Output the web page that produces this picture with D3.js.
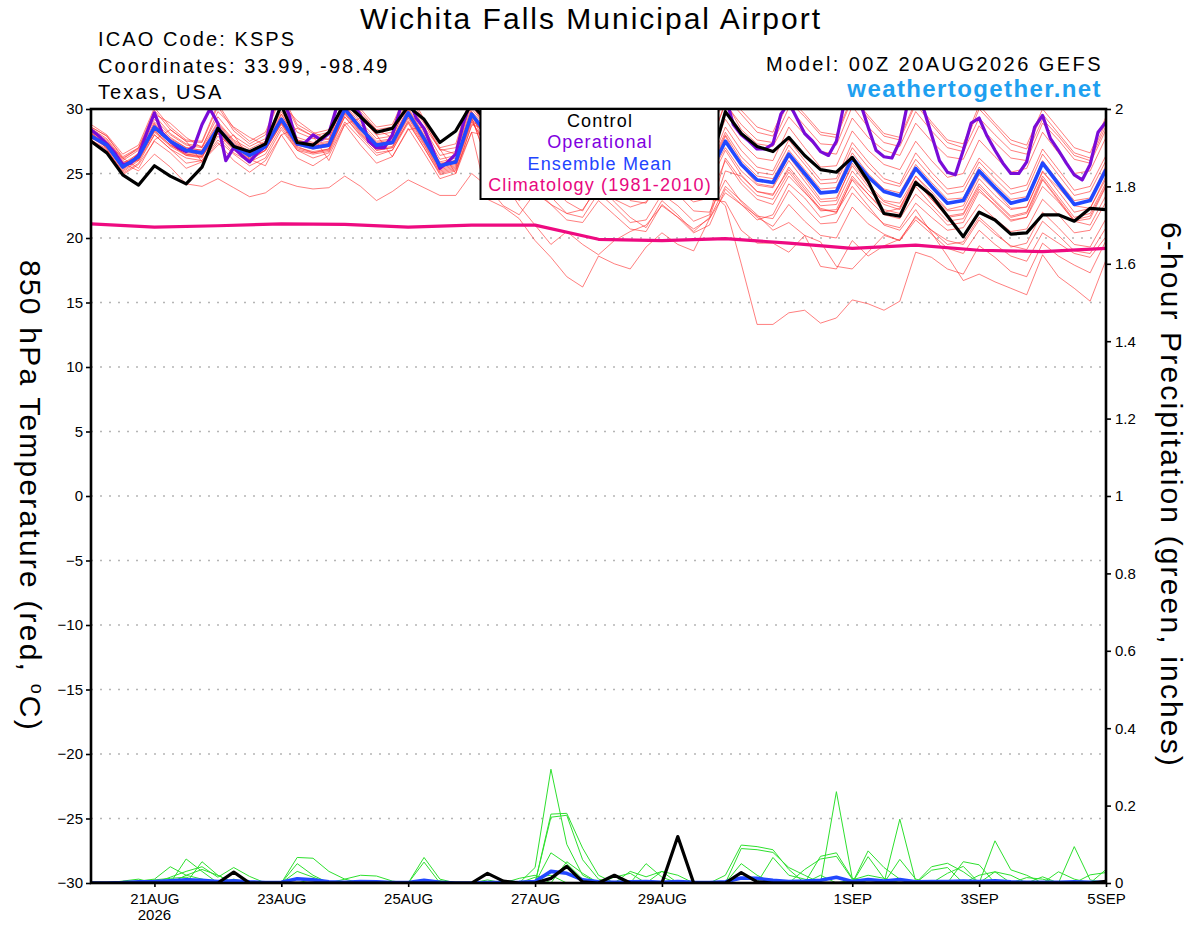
<!DOCTYPE html>
<html>
<head>
<meta charset="utf-8">
<script src="https://cdn.jsdelivr.net/npm/d3@7"></script>
<style>
  html, body { margin: 0; padding: 0; background: #fff; }
  svg { display: block; font-family: "Liberation Sans", Arial, Helvetica, sans-serif; }
</style>
</head>
<body>
<svg id="chart" width="1200" height="927"></svg>
<script>
// ---------------- DATA ----------------
const runStart = "2026-08-20T00:00:00Z";
const runEnd = "2026-09-05T00:00:00Z";
const tickDates = ["2026-08-21","2026-08-23","2026-08-25","2026-08-27","2026-08-29","2026-09-01","2026-09-03","2026-09-05"];
const tickLabels = ["21AUG","23AUG","25AUG","27AUG","29AUG","1SEP","3SEP","5SEP"];
const yearLabel = "2026";
const tempTicks = [-30,-25,-20,-15,-10,-5,0,5,10,15,20,25,30];
const tempGrid = [-25,-20,-15,-10,-5,0,5,10,15,20,25];
const precipTicks = [0,0.2,0.4,0.6,0.8,1,1.2,1.4,1.6,1.8,2];

// 6-hourly control (black)
const controlTemp = [27.5,26.6,24.9,24.1,25.6,24.8,24.2,25.5,28.5,27.1,
  26.7,27.3,30.3,27.4,27.2,28.2,30.5,29.4,28.2,28.5,
  30.2,29.2,27.4,28.3,30.4,29.0,27.5,27.0,29.5,28.0,
  26.5,26.2,28.8,27.5,26.0,25.8,28.5,27.0,25.8,25.5,
  29.8,28.1,27.1,26.7,27.8,26.4,25.3,25.1,26.25,24.4,
  21.9,21.7,24.3,23.3,21.7,20.1,22.0,21.4,20.3,20.4,
  21.8,21.8,21.3,22.3,22.2];

// 6-hourly ensemble mean (blue)
const meanTemp = [27.9,27.2,25.5,26.3,28.6,27.5,26.8,26.6,28.5,27.1,
  26.4,27.1,29.2,27.3,27.0,27.2,30.0,28.5,27.2,27.4,
  29.7,27.7,25.6,25.9,29.6,28.0,26.8,26.5,28.8,27.3,
  26.0,25.8,28.0,26.8,25.5,25.6,27.8,26.5,25.2,25.0,
  27.5,25.7,24.5,24.3,26.5,25.0,23.5,23.6,26.2,24.75,
  23.6,23.25,25.4,24.0,22.7,22.9,25.2,23.9,22.7,23.0,
  25.8,24.2,22.6,22.9,25.3];

// 3-hourly operational (purple)
const operationalTemp = [28.4,27.9,27.3,26.6,25.7,25.8,26.4,28.1,29.7,28.1,
  27.5,27.0,26.7,27.1,28.8,30.0,28.9,26.0,27.0,26.4,
  25.9,26.6,27.1,30.2,31.0,29.5,27.3,27.4,28.0,27.6,
  28.1,30.2,31.0,30.5,29.5,27.5,27.0,27.0,28.0,30.0,
  31.0,29.3,28.5,27.0,25.4,25.9,26.5,29.0,30.8,31.0,
  30.0,28.6,27.5,27.2,27.8,30.5,31.2,30.8,29.2,28.0,
  27.4,27.6,28.5,30.8,31.5,31.0,29.6,28.3,27.6,27.3,
  28.0,30.4,31.3,30.9,29.4,28.2,27.5,27.2,28.2,30.6,
  31.0,28.8,28.0,27.5,26.9,26.9,27.3,29.6,30.5,29.3,
  28.1,27.5,26.7,26.4,27.5,30.5,31.0,30.5,28.6,26.8,
  26.3,26.2,27.5,30.5,31.0,30.0,28.0,26.0,25.1,24.9,
  26.8,28.9,29.3,27.9,26.8,25.8,25.0,25.0,25.9,28.6,
  29.5,27.7,26.8,25.8,24.9,24.5,25.7,28.2,29.0];

// daily climatology (pink)
const climatology = [21.1,20.85,20.95,21.1,21.05,20.85,21.0,21.0,19.9,19.8,19.95,19.6,19.2,19.45,19.05,18.95,19.2];

// 6-hourly ensemble members (red)
const member01 = [28.0,27.0,25.8,25.2,26.5,25.5,24.2,24.0,24.6,23.9,23.2,23.5,24.4,24.0,23.8,23.9,24.8,24.0,22.9,23.6,24.5,23.9,23.3,23.3,25.0,
  24.0,22.5,21.8,23.5,22.6,21.9,22.2,24.0,23.0,22.4,22.8,24.5,23.6,22.8,23.1,
  26.0,24.2,23.0,22.6,24.8,23.5,22.3,22.0,24.5,23.0,21.8,21.5,23.4,22.3,21.0,21.2,23.6,22.6,21.4,21.6,24.0,22.8,21.3,21.0,23.3];
const member02 = [28.3,27.4,25.9,26.0,28.0,26.9,25.8,26.0,27.6,26.5,25.6,26.2,28.4,26.8,26.2,26.6,29.0,27.7,26.4,26.8,28.9,27.0,24.9,25.2,28.7,
  29.5,27.9,27.4,29.6,28.5,27.2,26.9,29.3,28.0,26.7,26.8,29.2,27.8,26.7,26.9,
  30.6,28.4,27.3,27.1,29.4,28.0,26.7,26.5,29.3,27.8,26.8,26.4,28.9,27.5,26.3,26.1,28.7,27.4,26.2,26.0,28.9,27.6,26.1,25.8,28.4];
const member03 = [28.6,27.9,26.3,27.0,29.9,28.4,27.5,27.4,30.2,28.3,27.3,28.0,31.0,28.6,27.9,28.2,31.6,29.8,28.4,28.6,31.2,29.0,26.8,27.0,31.0,
  30.2,28.6,28.3,30.8,29.4,28.0,27.8,30.3,28.9,27.7,27.6,30.1,28.8,27.6,27.9,
  31.0,29.6,28.2,27.9,30.6,29.4,28.0,27.8,30.8,29.3,27.9,27.6,30.4,28.8,27.4,27.0,30.0,28.7,27.3,26.9,29.6,28.1,26.6,26.2,29.0];
const member04 = [27.6,26.8,25.2,26.1,28.9,27.3,26.4,26.2,28.8,27.4,26.6,27.0,29.6,27.6,27.3,27.5,30.3,28.6,27.4,27.6,30.0,27.9,25.8,26.0,29.4,
  27.6,26.4,25.9,27.9,26.4,25.3,24.8,26.7,25.4,24.6,24.4,26.2,25.0,23.8,23.6,
  22.5,18.0,13.3,13.3,14.2,14.4,13.4,13.8,15.2,14.9,14.4,15.1,18.9,18.5,17.6,17.2,19.4,18.5,17.4,17.0,19.6,18.6,17.9,17.3,19.8];
const member05 = [28.1,27.3,25.7,26.4,28.3,27.2,26.5,26.4,28.1,26.9,26.2,26.8,28.9,27.1,26.6,26.9,29.4,28.0,26.8,27.0,29.0,27.0,25.0,25.3,28.2,
  23.0,22.4,21.5,19.8,18.5,17.0,16.2,18.6,18.0,17.6,19.3,20.4,19.5,19.0,21.5,
  23.5,22.6,21.4,21.8,24.2,23.1,21.6,21.9,24.6,23.4,22.0,22.3,24.8,23.6,22.2,22.5,24.9,23.7,22.3,22.4,25.1,23.9,22.5,22.3,24.6];
const member06 = [27.8,27.1,25.4,26.5,28.7,27.6,26.9,26.7,28.6,27.2,26.5,27.2,29.4,27.4,27.1,27.3,30.2,28.6,27.3,27.5,29.9,27.8,25.7,26.0,29.8,
  26.5,24.4,22.5,21.0,19.5,20.5,19.5,18.7,19.8,20.5,21.0,22.5,21.6,20.7,21.5,
  24.0,22.9,21.8,20.6,21.2,20.2,19.7,17.8,17.6,18.9,20.2,19.8,21.4,20.3,19.2,18.8,20.6,19.5,18.6,18.2,20.4,19.6,18.8,18.5,20.1];
const member07 = [28.0,27.2,25.6,26.2,28.4,27.4,26.6,26.5,28.3,27.0,26.3,27.0,29.0,27.2,26.9,27.1,29.7,28.3,27.0,27.3,29.5,27.5,25.4,25.7,29.2,
  27.8,26.6,26.2,28.3,27.0,25.8,25.4,27.6,26.3,25.0,25.1,27.2,25.9,24.6,24.3,
  26.8,24.9,23.6,23.4,25.3,23.8,22.2,22.0,24.0,22.5,21.0,20.6,22.2,20.4,18.6,16.7,17.2,16.6,16.1,15.6,18.7,17.0,16.1,15.1,18.3];
const member08 = [28.4,27.6,26.0,26.8,29.2,28.0,27.2,27.0,29.0,27.6,26.9,27.5,29.8,27.8,27.4,27.7,30.6,29.0,27.7,27.9,30.4,28.2,26.1,26.4,30.2,
  28.7,27.3,27.0,29.3,27.8,26.5,26.3,28.5,27.3,26.0,26.1,28.3,27.0,25.7,25.5,
  28.2,26.3,25.1,24.9,27.2,25.7,24.2,24.3,27.0,25.5,24.3,24.0,26.1,24.7,23.4,23.6,25.9,24.6,23.4,23.7,26.5,24.9,23.3,23.6,26.0];
const member09 = [27.5,26.7,25.0,25.8,28.0,26.9,26.2,26.0,27.9,26.6,25.9,26.5,28.6,26.8,26.5,26.7,29.4,27.9,26.6,26.8,29.1,27.2,25.1,25.4,29.0,
  27.2,25.4,24.2,25.8,24.0,22.8,22.1,24.2,22.8,21.6,20.8,22.9,21.8,20.5,21.6,
  25.2,24.8,23.6,23.3,25.5,24.0,22.5,22.6,25.2,23.7,22.6,22.2,24.4,23.0,21.7,21.9,24.2,22.9,21.7,22.0,24.8,23.2,21.6,21.9,24.3];
const member10 = [28.2,27.4,25.6,26.6,29.0,27.8,27.0,26.8,28.9,27.5,26.7,27.4,29.6,27.6,27.2,27.4,30.4,28.8,27.5,27.7,30.1,28.0,25.9,26.2,30.0,
  28.6,27.4,27.1,29.6,28.1,26.9,26.6,29.0,27.8,26.5,26.6,28.9,27.6,26.3,26.2,
  29.2,27.4,26.2,26.0,28.6,27.0,25.5,25.6,28.3,26.8,25.7,25.3,27.5,26.0,24.7,25.0,27.6,26.3,25.1,25.4,28.2,26.6,25.0,25.2,27.8];
const member11 = [27.7,27.4,26.2,26.9,29.6,28.9,27.8,27.0,29.8,28.6,27.8,27.2,30.4,29.1,28.2,27.6,31.0,29.6,28.4,27.8,30.6,28.9,26.9,26.5,30.5,
  28.2,26.9,26.5,28.9,27.4,26.2,26.0,28.1,26.9,25.7,25.7,27.9,26.6,25.3,25.1,
  27.9,25.6,24.2,24.0,26.3,24.7,23.0,23.1,25.6,24.0,22.8,22.4,24.5,23.0,21.6,21.8,24.0,22.8,21.6,21.9,24.6,23.0,21.4,21.7,24.1];
const member12 = [28.8,28.0,26.5,27.2,30.1,28.6,27.6,27.5,30.4,28.5,27.5,28.2,31.2,28.8,28.1,28.4,31.8,30.0,28.6,28.8,31.5,29.2,27.0,27.3,31.3,
  30.6,29.0,28.6,31.0,29.7,28.3,28.1,30.6,29.1,27.9,27.9,30.3,29.0,27.9,28.1,
  31.4,29.9,28.6,28.2,30.9,29.6,28.2,28.0,31.0,29.5,28.1,27.8,30.6,29.0,27.6,27.3,30.3,28.9,27.6,27.2,30.0,28.5,27.0,26.6,29.4];
const member13 = [28.6,27.9,26.2,25.4,27.6,28.4,27.5,25.9,27.2,28.0,26.1,25.6,28.0,28.5,27.9,26.0,28.8,29.3,28.0,26.3,28.4,28.6,26.9,25.0,28.2,
  27.9,26.7,26.3,28.6,27.1,25.9,25.7,27.8,26.6,25.3,25.4,27.5,26.3,25.0,24.8,
  27.0,25.2,24.1,23.9,26.0,24.4,22.8,22.9,25.8,24.2,22.9,22.7,24.8,23.4,22.1,22.2,24.6,23.3,22.2,22.4,25.2,23.6,22.0,22.3,24.8];
const member14 = [27.9,27.1,25.4,26.1,28.2,27.1,26.4,26.3,28.1,26.8,26.0,26.8,28.8,26.9,26.6,26.8,29.6,28.1,26.8,27.0,29.3,27.3,25.2,25.5,29.1,
  26.9,25.5,24.8,26.3,24.9,23.6,23.2,25.4,24.2,22.9,22.7,24.6,23.4,22.1,22.0,
  24.5,22.8,21.6,20.9,22.6,21.3,20.2,20.0,22.4,21.1,20.3,19.8,21.7,20.6,19.5,19.7,21.6,20.5,19.3,19.6,22.0,20.8,19.5,19.3,21.5];
const member15 = [28.5,27.7,26.1,27.0,29.5,28.1,27.3,27.1,29.4,27.9,27.1,27.7,30.3,28.2,27.7,28.0,30.9,29.3,28.0,28.2,30.8,28.5,26.4,26.7,30.6,
  29.6,28.1,27.8,30.3,28.9,27.6,27.4,29.9,28.5,27.2,27.2,29.6,28.3,27.1,27.3,
  30.4,28.8,27.6,27.4,30.1,28.7,27.3,27.2,30.2,28.6,27.4,27.1,29.8,28.3,27.0,26.7,29.3,28.0,26.8,26.5,29.2,27.9,26.4,26.0,28.7];
const member16 = [28.2,26.9,24.9,25.7,27.5,26.6,25.4,25.9,27.4,26.0,25.1,26.0,28.0,26.2,25.6,26.4,28.8,27.2,25.8,26.3,28.5,26.6,24.6,25.0,28.8,
  28.4,27.1,26.8,29.1,27.7,26.4,26.2,28.4,27.2,25.9,26.0,28.2,26.9,25.6,25.4,
  28.0,26.0,24.8,24.6,26.8,25.3,23.8,23.9,26.6,25.0,23.8,23.5,25.7,24.3,23.0,23.1,25.5,24.2,23.0,23.2,26.0,24.4,22.9,23.1,25.6];
const member17 = [27.8,27.0,25.3,26.2,28.6,27.4,26.7,26.5,28.5,27.1,26.4,27.1,29.3,27.3,27.0,27.2,30.0,28.4,27.1,27.3,29.7,27.7,25.6,25.9,29.6,
  27.5,26.2,25.8,27.8,26.3,25.0,24.6,26.6,25.4,24.1,24.0,25.8,24.5,23.2,23.0,
  22.8,20.6,19.6,19.6,18.9,20.2,17.8,17.6,19.8,18.6,19.4,19.9,21.6,20.6,19.8,19.5,21.4,20.3,19.4,19.1,21.3,20.2,19.0,18.8,20.8];
const member18 = [28.1,27.3,25.6,26.4,28.6,27.5,26.8,26.6,28.6,27.2,26.4,27.1,29.2,27.3,27.0,27.2,29.9,28.5,27.2,27.4,29.7,27.6,25.5,25.8,29.4,
  25.8,24.0,22.9,23.8,22.6,21.4,21.2,22.9,21.8,20.7,20.5,22.6,21.6,20.4,21.0,
  23.8,22.6,21.7,21.5,23.7,22.4,21.1,21.2,23.5,22.2,21.1,20.8,22.7,21.6,20.6,20.8,22.6,21.5,20.5,20.7,23.0,21.8,20.4,20.6,22.8];
const member19 = [28.3,27.5,25.8,26.5,28.8,27.7,27.0,26.8,28.7,27.3,26.6,27.2,29.3,27.4,27.1,27.3,30.2,28.6,27.3,27.5,29.8,27.8,25.7,26.0,29.8,
  28.5,27.2,26.9,29.2,27.8,26.5,26.3,28.6,27.4,26.1,26.2,28.4,27.1,25.8,25.6,
  28.6,26.8,25.5,25.2,27.6,26.0,24.5,24.6,27.4,25.9,24.6,24.2,26.6,25.1,23.8,24.0,26.2,25.0,23.8,24.1,26.9,25.3,23.7,24.0,26.4];
const member20 = [27.6,26.9,25.1,26.0,28.3,27.2,26.5,26.3,28.2,26.9,26.1,26.8,28.9,27.0,26.7,26.9,29.7,28.2,26.9,27.1,29.4,27.4,25.3,25.6,29.3,
  26.0,24.1,23.0,24.6,23.2,21.9,21.6,23.5,22.4,21.2,21.4,23.4,22.5,21.3,21.8,
  26.2,24.5,23.3,23.0,25.1,23.6,22.1,22.2,24.8,23.4,22.2,21.9,24.0,22.6,21.3,21.5,23.8,22.5,21.3,21.6,24.5,22.9,21.3,21.5,24.0];
const memberTemps = [member01,member02,member03,member04,member05,member06,member07,member08,member09,member10,
  member11,member12,member13,member14,member15,member16,member17,member18,member19,member20];

// 6-hourly precipitation (inches)
const controlPrecip = [0,0,0,0,0,0,0,0,0,0.028,
  0,0,0,0,0,0,0,0,0,0,
  0,0,0,0,0,0.025,0.005,0,0,0.012,
  0.043,0.003,0,0.02,0,0,0,0.12,0,0,
  0,0.027,0.003,0,0,0,0,0,0,0,
  0,0,0,0,0,0,0,0,0,0,
  0,0,0,0,0.004];
const meanPrecip = [0,0,0.001,0.003,0.004,0.006,0.008,0.007,0.004,0.006,
  0.003,0.001,0.002,0.011,0.008,0.003,0.002,0.004,0.003,0.001,
  0.001,0.007,0.002,0,0,0.001,0.001,0.002,0.004,0.03,
  0.025,0.008,0.003,0.002,0.003,0.004,0.002,0.004,0.002,0.001,
  0.003,0.013,0.012,0.007,0.004,0.005,0.007,0.015,0.004,0.009,
  0.005,0.009,0.003,0.004,0.004,0.005,0.004,0.006,0.003,0.002,
  0.002,0.002,0.003,0.002,0.002];
const precip01 = [0,0,0,0.005,0.01,0.042,0.02,0.01,0,0,
  0,0,0,0,0,0,0,0,0,0,
  0,0,0,0,0,0,0,0,0.04,0.294,
  0.1,0.02,0,0,0,0,0,0,0,0,
  0,0,0,0,0,0,0.02,0,0,0,
  0,0.165,0.004,0,0,0,0,0.029,0,0,
  0,0,0,0,0];
const precip02 = [0,0,0,0,0,0,0.062,0.03,0,0,
  0,0,0,0.066,0.064,0.03,0.01,0,0,0,
  0,0,0,0,0,0,0,0,0,0.178,
  0.18,0.09,0.02,0,0,0,0,0,0,0,
  0,0,0,0,0,0,0,0.236,0.012,0,
  0,0,0,0,0,0,0,0,0,0,
  0,0,0.094,0.008,0];
const precip03 = [0,0,0,0,0,0,0,0.055,0.02,0,
  0,0,0,0.05,0.02,0,0,0,0,0,
  0,0,0,0,0,0,0,0,0,0.17,
  0.175,0.06,0.01,0,0,0,0,0,0,0,
  0,0.089,0.086,0.079,0.04,0.02,0,0,0,0,
  0,0,0,0,0,0,0,0.109,0.034,0.02,
  0,0,0,0,0];
const precip04 = [0,0,0,0,0,0.015,0.03,0.042,0.015,0.04,
  0.017,0,0,0,0,0,0,0,0,0,
  0,0.066,0.01,0,0,0,0,0,0,0.078,
  0.05,0.01,0,0,0,0,0,0,0,0,
  0,0,0,0,0,0,0.069,0.078,0.012,0,
  0,0,0,0,0,0.055,0.047,0,0,0,
  0,0,0,0,0];
const precip05 = [0,0,0,0,0,0,0,0,0,0,
  0,0,0,0.03,0.015,0,0,0,0,0,
  0,0.054,0,0,0,0,0,0,0,0,
  0.055,0.025,0,0,0,0.05,0.015,0,0,0,
  0,0,0,0,0,0,0,0,0,0.083,
  0.04,0.01,0,0,0,0,0,0,0,0,
  0,0,0,0,0.035];
const precip06 = [0,0,0,0,0,0,0,0,0,0,
  0,0,0,0,0,0,0.01,0.02,0.018,0.005,
  0,0,0,0,0,0,0,0,0.015,0.02,
  0,0,0,0,0.03,0.016,0.03,0,0,0,
  0,0.05,0.02,0,0,0,0,0,0,0.068,
  0.012,0,0,0.042,0.051,0.029,0,0,0,0,
  0,0,0,0,0];
const precip07 = [0,0,0,0,0.008,0.012,0.015,0,0,0,
  0,0,0,0,0,0,0,0,0,0,
  0,0,0,0,0,0,0,0,0,0,
  0,0,0,0,0,0,0,0,0,0,
  0.02,0.098,0.094,0.086,0.035,0,0,0,0,0,
  0,0.061,0.01,0,0,0,0,0,0,0,
  0,0.029,0.01,0,0];
const precip08 = [0,0,0,0,0,0,0,0,0,0.01,
  0,0,0,0,0,0,0,0,0,0,
  0,0,0,0,0,0.008,0,0.012,0.02,0,
  0,0,0,0.015,0.025,0,0,0,0,0,
  0,0,0,0,0,0.035,0.062,0.069,0.01,0,
  0,0,0,0,0.025,0.043,0,0,0,0,
  0.016,0,0,0,0];
const precip09 = [0,0,0,0,0,0,0.02,0.035,0.02,0,
  0,0,0,0,0.01,0,0,0,0,0,
  0,0,0,0,0,0,0,0,0,0,
  0,0,0,0,0,0,0.03,0.02,0,0,
  0,0,0,0.066,0.02,0.01,0,0,0,0,
  0,0,0,0.033,0.04,0,0,0,0,0.014,
  0.01,0,0,0,0];
const precip10 = [0,0,0.005,0.01,0,0,0,0,0,0,
  0,0,0,0,0,0,0,0,0,0,
  0,0,0.006,0,0,0,0,0,0,0,
  0,0,0,0,0,0,0,0,0,0,
  0,0,0,0,0,0,0,0,0.008,0.02,
  0.012,0,0,0,0,0,0.02,0.029,0.02,0,
  0,0,0,0.021,0.027];
const memberPrecips = [precip01,precip02,precip03,precip04,precip05,precip06,precip07,precip08,precip09,precip10];

// ---------------- CHART ----------------
const plot = {left: 91, right: 1106, top: 109, bottom: 883};
const svg = d3.select("#chart");
const HOUR = 3600e3;
const t0 = new Date(runStart).getTime();

const x = d3.scaleUtc().domain([new Date(runStart), new Date(runEnd)]).range([plot.left, plot.right]);
const yT = d3.scaleLinear().domain([-30, 30]).range([plot.bottom, plot.top]);
const yP = d3.scaleLinear().domain([0, 2]).range([plot.bottom, plot.top]);

const at6 = i => new Date(t0 + i * 6 * HOUR);
const at3 = i => new Date(t0 + i * 3 * HOUR);
const at24 = i => new Date(t0 + i * 24 * HOUR);

svg.append("rect").attr("width", 1200).attr("height", 927).attr("fill", "#fff");

svg.append("defs").append("clipPath").attr("id", "plotclip")
  .append("rect").attr("x", plot.left).attr("y", plot.top)
  .attr("width", plot.right - plot.left).attr("height", plot.bottom - plot.top);

// grid
svg.append("g").selectAll("line").data(tempGrid).join("line")
  .attr("x1", plot.left).attr("x2", plot.right)
  .attr("y1", d => yT(d)).attr("y2", d => yT(d))
  .attr("stroke", "#b5b5b5").attr("stroke-width", 1.3)
  .attr("stroke-dasharray", "2,7");

const g = svg.append("g").attr("clip-path", "url(#plotclip)");
const lineT6 = d3.line().x((d, i) => x(at6(i))).y(d => yT(d));
const lineT3 = d3.line().x((d, i) => x(at3(i))).y(d => yT(d));
const lineT24 = d3.line().x((d, i) => x(at24(i))).y(d => yT(d));
const lineP6 = d3.line().x((d, i) => x(at6(i))).y(d => yP(d));

g.selectAll("path.member").data(memberTemps).join("path")
  .attr("class", "member").attr("d", lineT6).attr("fill", "none")
  .attr("stroke", "#ff2a2a").attr("stroke-opacity", 0.6).attr("stroke-width", 1)
  .attr("stroke-linejoin", "round");

g.selectAll("path.pmember").data(memberPrecips).join("path")
  .attr("class", "pmember").attr("d", lineP6).attr("fill", "none")
  .attr("stroke", "#2ee02e").attr("stroke-width", 1)
  .attr("stroke-linejoin", "round");

g.append("path").attr("d", lineT24(climatology)).attr("fill", "none")
  .attr("stroke", "#ee0a80").attr("stroke-width", 3.2).attr("stroke-linejoin", "round");

g.append("path").attr("d", lineT3(operationalTemp)).attr("fill", "none")
  .attr("stroke", "#7a0bd8").attr("stroke-width", 3.2).attr("stroke-linejoin", "round");

g.append("path").attr("d", lineT6(meanTemp)).attr("fill", "none")
  .attr("stroke", "#2248ff").attr("stroke-width", 3.6).attr("stroke-linejoin", "round");
g.append("path").attr("d", lineP6(meanPrecip)).attr("fill", "none")
  .attr("stroke", "#2248ff").attr("stroke-width", 3.6).attr("stroke-linejoin", "round");

g.append("path").attr("d", lineT6(controlTemp)).attr("fill", "none")
  .attr("stroke", "#000").attr("stroke-width", 3.2).attr("stroke-linejoin", "round");
g.append("path").attr("d", lineP6(controlPrecip)).attr("fill", "none")
  .attr("stroke", "#000").attr("stroke-width", 3.2).attr("stroke-linejoin", "round");

// frame
svg.append("rect").attr("x", plot.left).attr("y", plot.top)
  .attr("width", plot.right - plot.left).attr("height", plot.bottom - plot.top)
  .attr("fill", "none").attr("stroke", "#000").attr("stroke-width", 2.6);

// axes
const axisFont = sel => sel.selectAll("text").attr("font-size", 15).attr("fill", "#000")
  .attr("font-family", "'Liberation Sans', Arial, sans-serif");

const leftAxis = svg.append("g").attr("transform", `translate(${plot.left},0)`)
  .call(d3.axisLeft(yT).tickValues(tempTicks).tickSize(5).tickPadding(3).tickFormat(d3.format("d")));
leftAxis.select(".domain").remove();
leftAxis.selectAll("line").attr("stroke-width", 1.6);
axisFont(leftAxis);

const rightAxis = svg.append("g").attr("transform", `translate(${plot.right},0)`)
  .call(d3.axisRight(yP).tickValues(precipTicks).tickSize(5).tickPadding(4).tickFormat(d => String(+d.toFixed(1))));
rightAxis.select(".domain").remove();
rightAxis.selectAll("line").attr("stroke-width", 1.6);
axisFont(rightAxis);

const bottomAxis = svg.append("g").attr("transform", `translate(0,${plot.bottom})`)
  .call(d3.axisBottom(x).tickValues(tickDates.map(d => new Date(d + "T00:00:00Z")))
    .tickSize(4).tickPadding(6).tickFormat((d, i) => tickLabels[i]));
bottomAxis.select(".domain").remove();
bottomAxis.selectAll("line").attr("stroke-width", 1.6);
axisFont(bottomAxis);

svg.append("text").attr("x", x(new Date(tickDates[0] + "T00:00:00Z"))).attr("y", 920)
  .attr("text-anchor", "middle").attr("font-size", 15).text(yearLabel);

// legend
const leg = svg.append("g");
leg.append("rect").attr("x", 480.5).attr("y", plot.top).attr("width", 238).attr("height", 90)
  .attr("fill", "#fff").attr("stroke", "#000").attr("stroke-width", 2);
const legendItems = [
  {label: "Control", color: "#000"},
  {label: "Operational", color: "#8000e0"},
  {label: "Ensemble Mean", color: "#2244ff"},
  {label: "Climatology (1981-2010)", color: "#e8087e"}
];
leg.selectAll("text").data(legendItems).join("text")
  .attr("x", 600).attr("y", (d, i) => 127 + i * 21.3)
  .attr("text-anchor", "middle").attr("font-size", 18).attr("letter-spacing", 1.15)
  .attr("fill", d => d.color).text(d => d.label);

// titles
svg.append("text").attr("x", 591).attr("y", 29).attr("text-anchor", "middle")
  .attr("font-size", 30).attr("letter-spacing", 2).text("Wichita Falls Municipal Airport");
const headLeft = ["ICAO Code: KSPS", "Coordinates: 33.99, -98.49", "Texas, USA"];
svg.append("g").selectAll("text").data(headLeft).join("text")
  .attr("x", 98).attr("y", (d, i) => 46 + i * 26.7)
  .attr("font-size", 20).attr("letter-spacing", 2.1).text(d => d);
svg.append("text").attr("x", 1103).attr("y", 71).attr("text-anchor", "end")
  .attr("font-size", 20).attr("letter-spacing", 2.45).text("Model: 00Z 20AUG2026 GEFS");
svg.append("text").attr("x", 1102).attr("y", 97).attr("text-anchor", "end")
  .attr("font-size", 24).attr("font-weight", "bold").attr("letter-spacing", 1.4)
  .attr("fill", "#1ea0f0").text("weathertogether.net");

// axis titles
const ylab = svg.append("text").attr("transform", "translate(20,496) rotate(90)")
  .attr("text-anchor", "middle").attr("font-size", 30).attr("letter-spacing", 2.2);
ylab.append("tspan").text("850 hPa Temperature (red, ");
ylab.append("tspan").attr("font-size", 18).attr("dy", -11).text("o");
ylab.append("tspan").attr("dy", 11).text("C)");

svg.append("text").attr("transform", "translate(1161,495) rotate(90)")
  .attr("text-anchor", "middle").attr("font-size", 30).attr("letter-spacing", 2.15)
  .text("6-hour Precipitation (green, inches)");
</script>
</body>
</html>
